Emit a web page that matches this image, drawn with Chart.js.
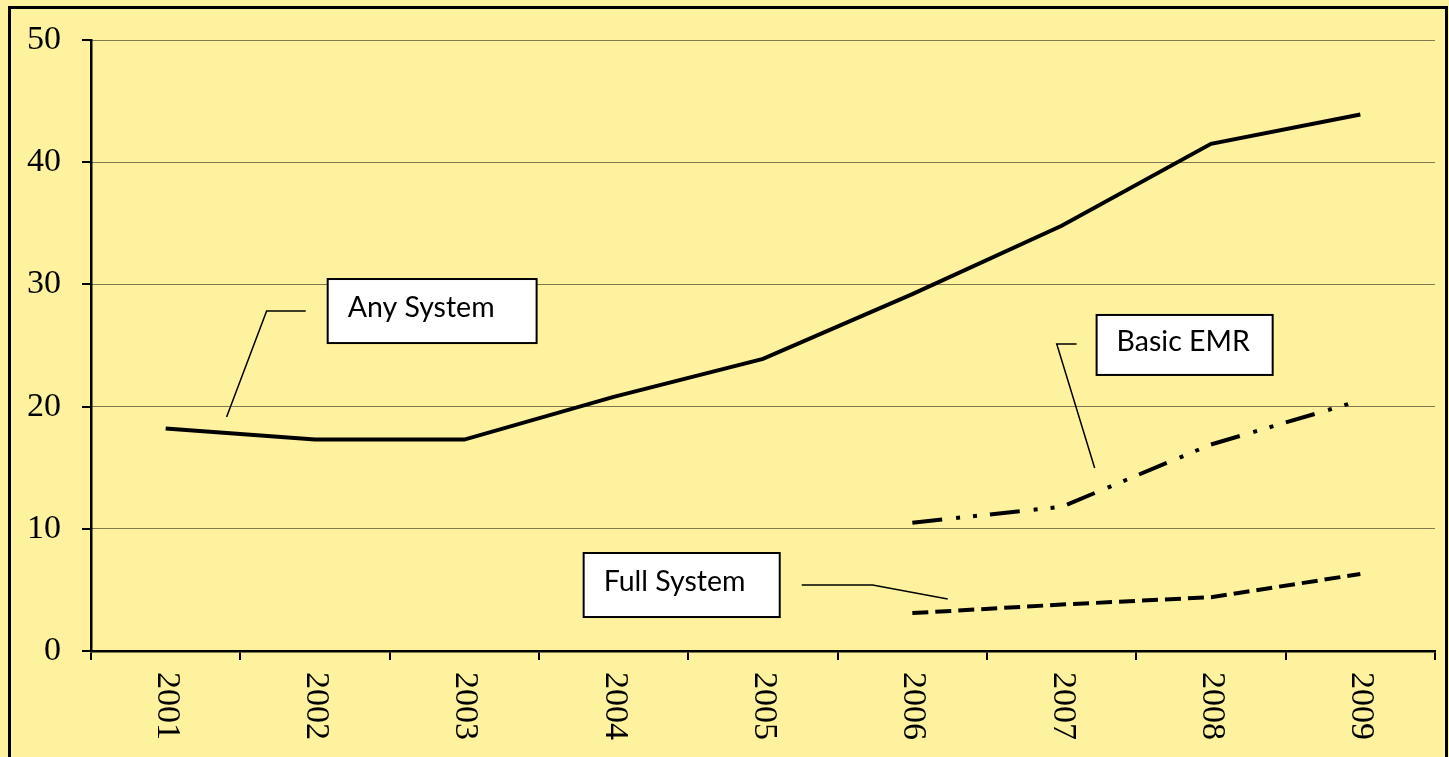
<!DOCTYPE html>
<html>
<head>
<meta charset="utf-8">
<script src="https://cdn.jsdelivr.net/npm/chart.js@4/dist/chart.umd.min.js"></script>
<style>
  html, body { margin: 0; padding: 0; background: #fff29e; overflow: hidden; }
  canvas { display: block; }
</style>
</head>
<body>
<canvas id="adoptionChart" width="1449" height="757"></canvas>
<script>
const years = ['2001', '2002', '2003', '2004', '2005', '2006', '2007', '2008', '2009'];
const anySystem = [18.2, 17.3, 17.3, 20.8, 23.9, 29.2, 34.8, 41.5, 43.9];
const basicEmr = [null, null, null, null, null, 10.5, 11.8, 16.9, 20.5];
const fullSystem = [null, null, null, null, null, 3.1, 3.8, 4.4, 6.3];
const yTicks = [0, 10, 20, 30, 40, 50];

// callout boxes, placed in data units (category index, value)
const callouts = [
  { text: 'Any System', box: [1.085, 30.44, 2.484, 25.2], leader: [[0.9375, 27.82], [0.676, 27.82], [0.408, 19.15]] },
  { text: 'Basic EMR', box: [6.234, 27.5, 7.413, 22.59], leader: [[6.1, 25.12], [5.967, 25.12], [6.221, 14.98]] },
  { text: 'Full System', box: [2.799, 8.02, 4.112, 2.78], leader: [[4.259, 5.4], [4.734, 5.4], [5.237, 4.26]] }
];

document.addEventListener('DOMContentLoaded', () => {
  const ctx = document.getElementById('adoptionChart').getContext('2d');
  const serif = '"Liberation Serif", serif';

  const pagePlugin = {
    id: 'page',
    beforeDraw(chart) {
      const c = chart.ctx;
      c.save();
      c.fillStyle = '#fff29e';
      c.fillRect(0, 0, chart.width, chart.height);
      c.restore();
    },
    afterDraw(chart) {
      const c = chart.ctx;
      const area = chart.chartArea;
      const x = chart.scales.x;
      const y = chart.scales.y;
      c.save();

      // y tick marks (solid, the grid lines themselves are dotted)
      c.strokeStyle = '#000';
      c.lineWidth = 2;
      y.ticks.forEach((t, i) => {
        const py = Math.round(y.getPixelForTick(i));
        c.beginPath();
        c.moveTo(area.left - 9, py);
        c.lineTo(area.left, py);
        c.stroke();
      });

      // year labels, rotated to read downwards
      c.fillStyle = '#000';
      c.font = '34px ' + serif;
      c.textAlign = 'left';
      c.textBaseline = 'middle';
      years.forEach((label, i) => {
        c.save();
        c.translate(x.getPixelForValue(i) + 1, area.bottom + 21);
        c.rotate(Math.PI / 2);
        c.fillText(label, 0, 0);
        c.restore();
      });

      // callouts
      callouts.forEach(co => {
        const pts = co.leader.map(p => [x.getPixelForValue(p[0]), y.getPixelForValue(p[1])]);
        c.strokeStyle = '#000';
        c.lineWidth = 1.5;
        c.beginPath();
        c.moveTo(pts[0][0], pts[0][1]);
        pts.slice(1).forEach(p => c.lineTo(p[0], p[1]));
        c.stroke();

        const bx1 = x.getPixelForValue(co.box[0]);
        const by1 = y.getPixelForValue(co.box[1]);
        const bx2 = x.getPixelForValue(co.box[2]);
        const by2 = y.getPixelForValue(co.box[3]);
        c.fillStyle = '#fff';
        c.fillRect(bx1, by1, bx2 - bx1, by2 - by1);
        c.lineWidth = 2;
        c.strokeRect(bx1, by1, bx2 - bx1, by2 - by1);
        c.fillStyle = '#000';
        c.font = '28.5px Lato, sans-serif';
        c.textAlign = 'left';
        c.textBaseline = 'middle';
        c.fillText(co.text, bx1 + 20, (by1 + by2) / 2 - 3);
      });

      // outer frame
      c.lineWidth = 3;
      c.strokeStyle = '#000';
      c.strokeRect(9.5, 7.5, 1437, 760);
      c.restore();
    }
  };

  new Chart(ctx, {
    type: 'line',
    data: {
      labels: years,
      datasets: [
        {
          label: 'Any System',
          data: anySystem,
          borderColor: '#000',
          borderWidth: 4,
          pointRadius: 0,
          tension: 0
        },
        {
          label: 'Basic EMR',
          data: basicEmr,
          borderColor: '#000',
          borderWidth: 4,
          borderDash: [30, 14, 4, 13, 4, 13],
          pointRadius: 0,
          tension: 0
        },
        {
          label: 'Full System',
          data: fullSystem,
          borderColor: '#000',
          borderWidth: 4,
          borderDash: [16, 7],
          pointRadius: 0,
          tension: 0
        }
      ]
    },
    options: {
      responsive: false,
      animation: false,
      layout: { padding: { top: 40, right: 14, left: 0, bottom: 0 } },
      plugins: {
        legend: { display: false },
        tooltip: { enabled: false }
      },
      scales: {
        x: {
          offset: true,
          grid: {
            offset: true,
            drawOnChartArea: false,
            drawTicks: true,
            tickLength: 9,
            color: '#000',
            lineWidth: 2
          },
          border: { color: '#000', width: 2.5 },
          ticks: { display: false },
          afterFit: scale => { scale.height = 106; }
        },
        y: {
          min: 0,
          max: 50,
          afterBuildTicks: scale => { scale.ticks = yTicks.map(v => ({ value: v })); },
          grid: {
            color: '#000',
            lineWidth: 1,
            drawTicks: false
          },
          border: { color: '#000', width: 2.5, dash: [1, 1] },
          ticks: {
            color: '#000',
            padding: 30,
            font: { family: serif, size: 34 }
          },
          afterFit: scale => {
            scale.width = 91;
            scale.paddingTop = 0;
            scale.paddingBottom = 0;
          }
        }
      }
    },
    plugins: [pagePlugin]
  });
});
</script>
</body>
</html>
